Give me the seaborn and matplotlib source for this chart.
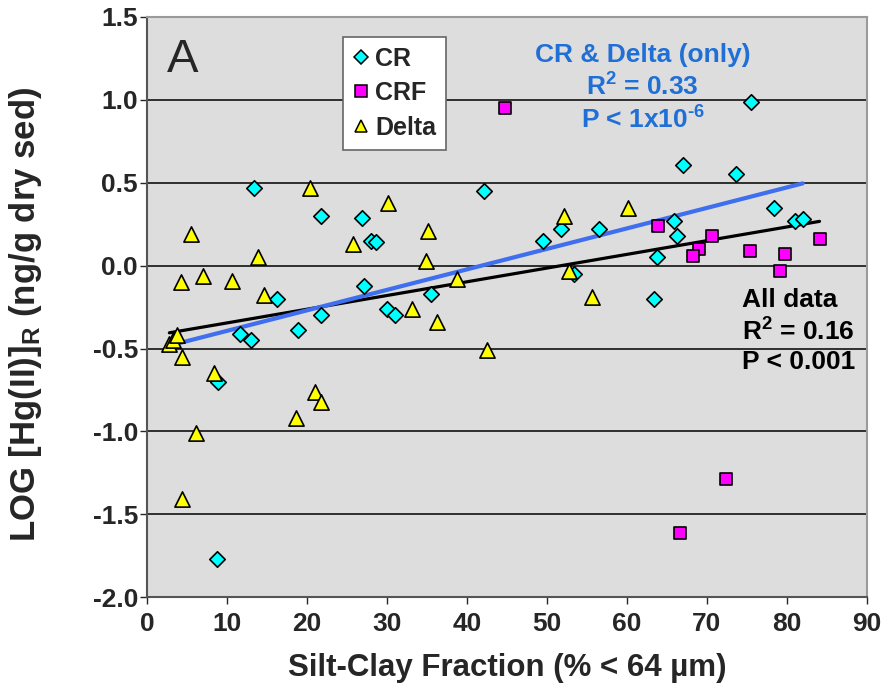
import numpy as np
import pandas as pd
import matplotlib
matplotlib.use("Agg")
import matplotlib.pyplot as plt
from matplotlib.lines import Line2D
import seaborn as sns

# ---- data ----
cr_x = [13.4, 21.75, 26.9, 28.0, 28.6, 27.1, 30.0, 31.0, 35.5, 42.1, 16.25, 21.75, 18.9,
        11.6, 13.0, 8.9, 8.75, 49.5, 51.75, 56.5, 53.4, 67.0, 65.9, 66.25, 63.75, 63.4,
        75.5, 73.6, 78.4, 81.0, 82.0]
cr_y = [0.47, 0.30, 0.29, 0.15, 0.14, -0.12, -0.26, -0.30, -0.17, 0.45, -0.20, -0.30, -0.39,
        -0.41, -0.45, -0.70, -1.77, 0.15, 0.22, 0.22, -0.05, 0.61, 0.27, 0.18, 0.05, -0.20,
        0.99, 0.55, 0.35, 0.27, 0.28]

crf_x = [44.75, 63.9, 70.6, 69.0, 68.25, 75.4, 79.75, 79.1, 84.1, 72.4, 66.6]
crf_y = [0.95, 0.24, 0.18, 0.10, 0.06, 0.09, 0.07, -0.03, 0.16, -1.29, -1.61]

delta_x = [20.4, 5.5, 13.9, 4.25, 7.0, 10.6, 14.6, 2.8, 3.3, 3.8, 4.4, 8.4, 21.0, 21.75,
           18.6, 6.1, 4.4, 30.1, 25.75, 35.1, 34.9, 38.75, 33.1, 36.25, 42.5, 52.1, 60.1,
           52.75, 55.6]
delta_y = [0.47, 0.19, 0.05, -0.10, -0.06, -0.09, -0.18, -0.47, -0.45, -0.42, -0.55, -0.65,
           -0.76, -0.82, -0.92, -1.01, -1.41, 0.38, 0.13, 0.21, 0.03, -0.08, -0.26, -0.34,
           -0.51, 0.30, 0.35, -0.03, -0.19]

groups = ["CR", "CRF", "Delta"]
x_ticks = list(range(0, 100, 10))
y_ticks = [-2.0, -1.5, -1.0, -0.5, 0.0, 0.5, 1.0, 1.5]

df = pd.concat([
    pd.DataFrame({"x": cr_x, "y": cr_y, "g": "CR"}),
    pd.DataFrame({"x": crf_x, "y": crf_y, "g": "CRF"}),
    pd.DataFrame({"x": delta_x, "y": delta_y, "g": "Delta"}),
], ignore_index=True)
df_crd = df[df["g"].isin(["CR", "Delta"])]

# ---- style ----
sns.set_style("ticks")
plt.rcParams["font.family"] = ["Liberation Sans", "DejaVu Sans"]
plt.rcParams["font.weight"] = "bold"
plt.rcParams["mathtext.fontset"] = "custom"
plt.rcParams["mathtext.rm"] = "Liberation Sans:bold"
plt.rcParams["mathtext.bf"] = "Liberation Sans:bold"
plt.rcParams["mathtext.it"] = "Liberation Sans:bold"

fig = plt.figure(figsize=(8.88, 6.92), dpi=100)
ax = fig.add_axes([0.1655, 0.137, 0.8105, 0.8385])
ax.set_facecolor("#DDDDDD")

ax.set_xlim(0, 90)
ax.set_ylim(-2.0, 1.5)
for yv in y_ticks[1:-1]:
    ax.axhline(yv, color="black", lw=1.1, zorder=1)

styles = {"CR": dict(marker="D", color="#00FFFF", s=62),
          "CRF": dict(marker="s", color="#FF00FF", s=85),
          "Delta": dict(marker="^", color="#FFFF00", s=120)}

# regression lines
sns.regplot(data=df, x="x", y="y", scatter=False, ci=None, ax=ax,
            line_kws=dict(color="black", lw=2.3, zorder=3))
sns.regplot(data=df_crd, x="x", y="y", scatter=False, ci=None, ax=ax,
            line_kws=dict(color="#3F6FEF", lw=3.0, zorder=3))

for g in groups:
    st = styles[g]
    sub = df[df["g"] == g]
    sns.scatterplot(data=sub, x="x", y="y", marker=st["marker"], color=st["color"],
                    s=st["s"], edgecolor="black", linewidth=1.2, ax=ax, zorder=4,
                    legend=False)

ax.set_xticks(x_ticks)
ax.set_yticks(y_ticks)
ax.set_yticklabels([f"{v:.1f}" for v in y_ticks])
ax.tick_params(axis="both", labelsize=19, length=5, width=1, direction="out")
ax.tick_params(axis="y", pad=1.5)
ax.tick_params(axis="x", pad=6)
for lab in ax.get_xticklabels() + ax.get_yticklabels():
    lab.set_fontweight("bold")

for sp in ["left", "bottom"]:
    ax.spines[sp].set_color("#555555")
    ax.spines[sp].set_linewidth(1.5)
for sp in ["right", "top"]:
    ax.spines[sp].set_visible(True)
    ax.spines[sp].set_color("#9a9a9a")
    ax.spines[sp].set_linewidth(1.5)

ax.set_xlabel("Silt-Clay Fraction (% < 64 µm)", fontsize=22.5, fontweight="bold", labelpad=12)
ax.set_ylabel(r"LOG [Hg(II)]$_\mathrm{R}$ (ng/g dry sed)", fontsize=25, fontweight="bold")
ax.yaxis.set_label_coords(-0.143, 0.488)

# legend
handles = [Line2D([], [], marker=styles[g]["marker"], color="none",
                  markerfacecolor=styles[g]["color"], markeredgecolor="black",
                  markersize={"CR": 7, "CRF": 8, "Delta": 9}[g], markeredgewidth=1.1)
           for g in groups]
leg = ax.legend(handles, groups, loc="upper left", bbox_to_anchor=(0.272, 0.966),
                prop=dict(size=18, weight="bold"), frameon=True, fancybox=False,
                framealpha=1, edgecolor="#666666", handlelength=0.7, handletextpad=0.2,
                borderpad=0.4, labelspacing=0.42, borderaxespad=0)
leg.get_frame().set_linewidth(1.2)

# annotations
ax.text(2.45, 1.24, "A", fontsize=34, fontweight="normal", va="center", ha="left")
blue = "#1F6FD6"
ax.text(62.0, 1.27, "CR & Delta (only)", color=blue, fontsize=19, fontweight="bold",
        ha="center", va="center")
ax.text(62.0, 1.08, r"R$^\mathrm{2}$ = 0.33", color=blue, fontsize=19, fontweight="bold",
        ha="center", va="center")
ax.text(62.0, 0.88, r"P < 1x10$^\text{-6}$", color=blue, fontsize=19, fontweight="bold",
        ha="center", va="center")
ax.text(74.35, -0.21, "All data", color="black", fontsize=19, fontweight="bold",
        ha="left", va="center")
ax.text(74.35, -0.40, r"R$^\mathrm{2}$ = 0.16", color="black", fontsize=19, fontweight="bold",
        ha="left", va="center")
ax.text(74.35, -0.58, "P < 0.001", color="black", fontsize=19, fontweight="bold",
        ha="left", va="center")

fig.savefig("out.png", dpi=100, facecolor="white")
